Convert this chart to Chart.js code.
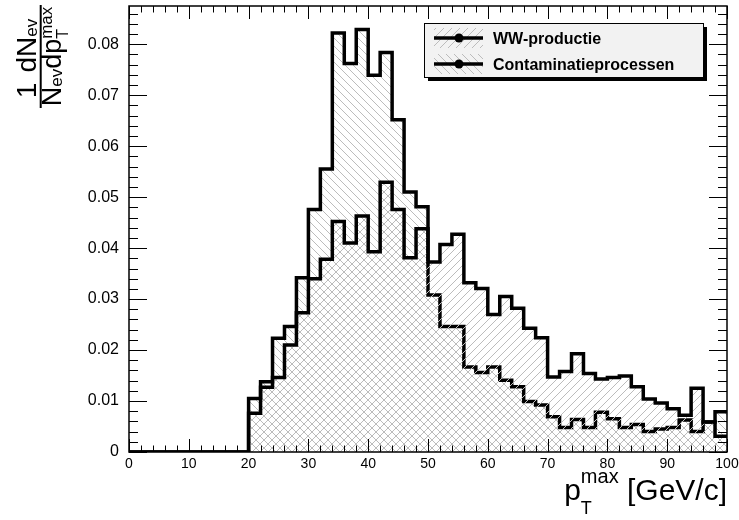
<!DOCTYPE html>
<html>
<head>
<meta charset="utf-8">
<script src="https://cdn.jsdelivr.net/npm/chart.js@4.4.1/dist/chart.umd.min.js"></script>
<style>
  html, body { margin: 0; padding: 0; background: #fff; }
  #wrap { width: 739px; height: 520px; }
</style>
</head>
<body>
<div id="wrap"><canvas id="chart" width="739" height="520"></canvas></div>
<script>
// bin left edges, 2 GeV/c wide
const binWidth = 2;
const binStarts = [0, 2, 4, 6, 8, 10, 12, 14, 16, 18,
                   20, 22, 24, 26, 28, 30, 32, 34, 36, 38,
                   40, 42, 44, 46, 48, 50, 52, 54, 56, 58,
                   60, 62, 64, 66, 68, 70, 72, 74, 76, 78,
                   80, 82, 84, 86, 88, 90, 92, 94, 96, 98];

const wwValues = [0, 0, 0, 0, 0, 0, 0, 0, 0, 0,
                  0.0076, 0.0127, 0.0146, 0.0210, 0.0273, 0.0340, 0.0378, 0.0452, 0.0410, 0.0463,
                  0.0393, 0.0529, 0.0476, 0.0381, 0.0438, 0.0373, 0.0407, 0.0427, 0.0332, 0.0321,
                  0.0270, 0.0305, 0.0282, 0.0243, 0.0224, 0.0147, 0.0158, 0.0193, 0.0154, 0.0143,
                  0.0146, 0.0149, 0.0128, 0.0104, 0.0096, 0.0085, 0.0072, 0.0125, 0.0059, 0.0031];

const contamValues = [0, 0, 0, 0, 0, 0, 0, 0, 0, 0,
                      0.0105, 0.0138, 0.0223, 0.0246, 0.0342, 0.0476, 0.0555, 0.0822, 0.0762, 0.0829,
                      0.0739, 0.0784, 0.0652, 0.0510, 0.0481, 0.0308, 0.0246, 0.0246, 0.0167, 0.0156,
                      0.0167, 0.0141, 0.0128, 0.0099, 0.0092, 0.0069, 0.0048, 0.0064, 0.0048, 0.0078,
                      0.0065, 0.0048, 0.0054, 0.0040, 0.0045, 0.0048, 0.0063, 0.0040, 0.0059, 0.0079];

const seriesNames = ['WW-productie', 'Contaminatieprocessen'];
const xMin = 0, xMax = 100, xStep = 10;
const yMin = 0, yMax = 0.0875, yStep = 0.01;

const FONT = '"Liberation Sans", Helvetica, Arial, sans-serif';

// hatch patterns ('/' and '\')
function makeHatch(dir) {
  const c = document.createElement('canvas');
  c.width = 8; c.height = 8;
  const g = c.getContext('2d');
  g.strokeStyle = '#bcbcbc';
  g.lineWidth = 1;
  g.beginPath();
  if (dir === '/') {
    g.moveTo(0, 8); g.lineTo(8, 0);
    g.moveTo(-1, 1); g.lineTo(1, -1);
    g.moveTo(7, 9); g.lineTo(9, 7);
  } else {
    g.moveTo(0, 0); g.lineTo(8, 8);
    g.moveTo(-1, 7); g.lineTo(1, 9);
    g.moveTo(7, -1); g.lineTo(9, 1);
  }
  g.stroke();
  return g.createPattern(c, 'repeat');
}
const hatchWW = makeHatch('/');
const hatchContam = makeHatch('\\');

function toSteps(values) {
  const pts = binStarts.map((x, i) => ({ x: x, y: values[i] }));
  const last = binStarts.length - 1;
  pts.push({ x: binStarts[last] + binWidth, y: values[last] });
  return pts;
}

// draws a run of text pieces (sub/superscripts) left to right
function partsWidth(ctx, parts) {
  let w = 0;
  parts.forEach(p => {
    if (p.stack) {
      let m = 0;
      p.stack.forEach(s => { ctx.font = s.size + 'px ' + FONT; m = Math.max(m, ctx.measureText(s.text).width); });
      w += m;
    } else {
      ctx.font = p.size + 'px ' + FONT;
      w += ctx.measureText(p.text).width + (p.gap || 0);
    }
  });
  return w;
}
function drawParts(ctx, parts, x, y) {
  let cx = x;
  parts.forEach(p => {
    if (p.stack) {
      let m = 0;
      p.stack.forEach(s => {
        ctx.font = s.size + 'px ' + FONT;
        ctx.fillText(s.text, cx, y + s.dy);
        m = Math.max(m, ctx.measureText(s.text).width);
      });
      cx += m;
    } else {
      ctx.font = p.size + 'px ' + FONT;
      ctx.fillText(p.text, cx, y + (p.dy || 0));
      cx += ctx.measureText(p.text).width + (p.gap || 0);
    }
  });
}

// no extra label padding, so the frame sits where ROOT put it
function noPad(s) {
  s.paddingTop = 0; s.paddingBottom = 0; s.paddingLeft = 0; s.paddingRight = 0;
}

// ROOT-like frame with inner ticks on all four sides
const framePlugin = {
  id: 'frame',
  afterDatasetsDraw(chart) {
    const ctx = chart.ctx;
    const xs = chart.scales.x, ys = chart.scales.y;
    const { left, right, top, bottom } = chart.chartArea;
    ctx.save();
    ctx.strokeStyle = '#000';
    ctx.lineWidth = 1;
    ctx.beginPath();
    for (let i = 0; i <= 50; i++) {
      const v = i * 2;
      const px = Math.round(xs.getPixelForValue(v)) + 0.5;
      const len = i % 5 === 0 ? 13 : 6.5;
      ctx.moveTo(px, bottom); ctx.lineTo(px, bottom - len);
      ctx.moveTo(px, top); ctx.lineTo(px, top + len);
    }
    for (let i = 0; i * 0.002 < yMax; i++) {
      const py = Math.round(ys.getPixelForValue(i * 0.002)) + 0.5;
      const len = i % 5 === 0 ? 18 : 9;
      ctx.moveTo(left, py); ctx.lineTo(left + len, py);
      ctx.moveTo(right, py); ctx.lineTo(right - len, py);
    }
    ctx.stroke();
    ctx.lineWidth = 1.5;
    ctx.strokeRect(left, top, right - left, bottom - top);
    ctx.restore();
  }
};

// legend box with drop shadow
const legendPlugin = {
  id: 'rootLegend',
  afterDraw(chart) {
    const ctx = chart.ctx;
    const bx = 424, by = 23, bw = 279, bh = 54;
    ctx.save();
    ctx.fillStyle = '#000';
    ctx.fillRect(bx + 4, by + 4, bw, bh);
    ctx.fillStyle = '#f2f2f2';
    ctx.fillRect(bx, by, bw, bh);
    ctx.strokeStyle = '#000';
    ctx.lineWidth = 1;
    ctx.strokeRect(bx + 0.5, by + 0.5, bw, bh);
    const rows = [
      { name: seriesNames[0], fill: hatchWW, cy: 38 },
      { name: seriesNames[1], fill: hatchContam, cy: 64 }
    ];
    rows.forEach(r => {
      ctx.fillStyle = r.fill;
      ctx.fillRect(434, r.cy - 10, 49, 20);
      ctx.strokeStyle = '#000';
      ctx.lineWidth = 3.5;
      ctx.beginPath();
      ctx.moveTo(434, r.cy); ctx.lineTo(483, r.cy);
      ctx.stroke();
      ctx.fillStyle = '#000';
      ctx.beginPath();
      ctx.arc(459, r.cy, 4.5, 0, Math.PI * 2);
      ctx.fill();
      ctx.font = 'bold 16px ' + FONT;
      ctx.textBaseline = 'alphabetic';
      ctx.textAlign = 'left';
      ctx.fillText(r.name, 493, r.cy + 6);
    });
    ctx.restore();
  }
};

// axis titles
const titlePlugin = {
  id: 'axisTitles',
  afterDraw(chart) {
    const ctx = chart.ctx;
    ctx.save();
    ctx.fillStyle = '#000';
    ctx.textBaseline = 'alphabetic';
    ctx.textAlign = 'left';

    // x title: p_T^max [GeV/c]
    const xParts = [
      { text: 'p', size: 30 },
      { stack: [{ text: 'max', size: 20, dy: -17 }, { text: 'T', size: 18, dy: 14 }] },
      { text: ' [GeV/c]', size: 30 }
    ];
    const xw = partsWidth(ctx, xParts);
    drawParts(ctx, xParts, 727 - xw, 500);

    // y title: 1 dN_ev / N_ev dp_T^max, rotated
    ctx.translate(40.7, 56.5);
    ctx.rotate(-Math.PI / 2);
    const num = [
      { text: '1', size: 28, gap: 10 },
      { text: 'dN', size: 28 },
      { text: 'ev', size: 17, dy: 1 }
    ];
    const den = [
      { text: 'N', size: 27 },
      { text: 'ev', size: 17, dy: 1 },
      { text: 'dp', size: 27 },
      { stack: [{ text: 'max', size: 17, dy: -9 }, { text: 'T', size: 16, dy: 7 }] }
    ];
    const nw = partsWidth(ctx, num);
    drawParts(ctx, num, -2 - nw / 2, -4.5);
    const dw = partsWidth(ctx, den);
    drawParts(ctx, den, -dw / 2, 20);
    ctx.fillRect(-51.5, -1, 103, 2);
    ctx.restore();
  }
};

new Chart(document.getElementById('chart'), {
  type: 'line',
  data: {
    datasets: [
      {
        label: seriesNames[0],
        data: toSteps(wwValues),
        stepped: true,
        borderColor: '#000',
        borderWidth: 3.5,
        backgroundColor: hatchWW,
        fill: 'origin',
        pointRadius: 0
      },
      {
        label: seriesNames[1],
        data: toSteps(contamValues),
        stepped: true,
        borderColor: '#000',
        borderWidth: 3.5,
        backgroundColor: hatchContam,
        fill: 'origin',
        pointRadius: 0
      }
    ]
  },
  options: {
    responsive: false,
    animation: false,
    devicePixelRatio: 1,
    layout: { padding: { top: 6, right: 12, left: 0, bottom: 0 } },
    plugins: { legend: { display: false }, tooltip: { enabled: false } },
    scales: {
      x: {
        type: 'linear',
        min: xMin, max: xMax,
        grid: { display: false, drawTicks: false },
        border: { display: false },
        ticks: {
          stepSize: xStep, autoSkip: false, maxRotation: 0, padding: 4,
          color: '#000', font: { family: FONT, size: 14 }
        },
        afterFit(s) { s.height = 68; noPad(s); }
      },
      y: {
        type: 'linear',
        min: yMin, max: yMax,
        grid: { display: false, drawTicks: false },
        border: { display: false },
        ticks: {
          stepSize: yStep, includeBounds: false, padding: 10,
          color: '#000', font: { family: FONT, size: 16 },
          callback: v => (v === 0 ? '0' : v.toFixed(2))
        },
        afterFit(s) { s.width = 129; noPad(s); }
      }
    }
  },
  plugins: [framePlugin, legendPlugin, titlePlugin]
});
</script>
</body>
</html>
